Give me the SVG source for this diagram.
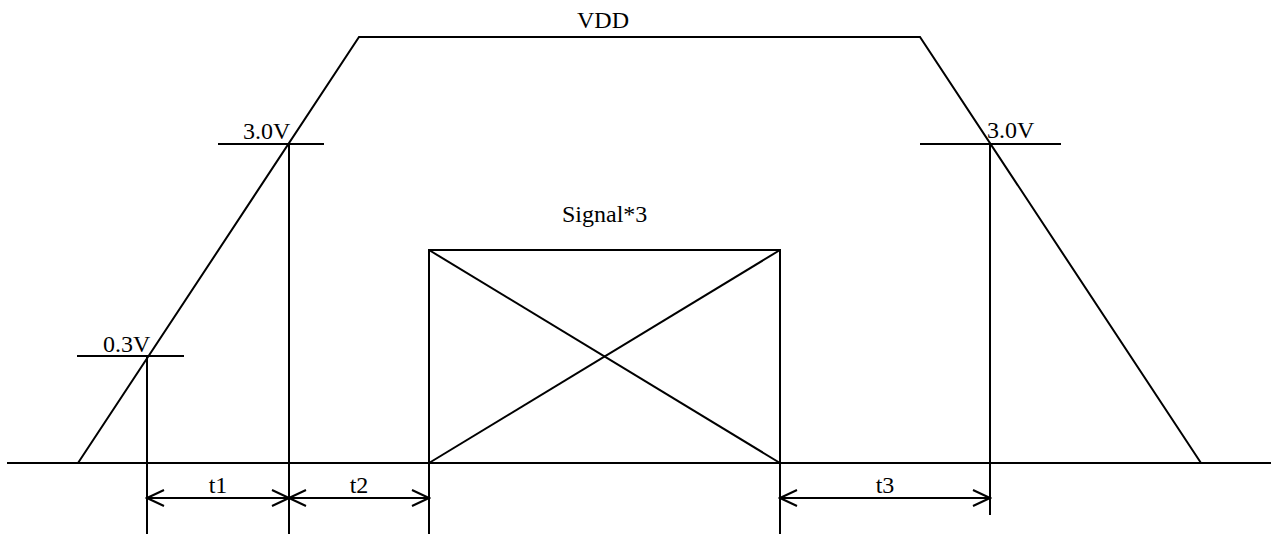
<svg xmlns="http://www.w3.org/2000/svg" width="1271" height="534" viewBox="0 0 1271 534">
<style>
.ln{stroke:#000;stroke-width:2;fill:none;stroke-linecap:butt;stroke-linejoin:miter}
.dim{stroke:#000;stroke-width:2;fill:none;marker-start:url(#ah);marker-end:url(#ah)}
.tx{font-family:"Liberation Serif","Times New Roman",serif;font-size:24px;fill:#000}
</style>
<defs>
<marker id="ah" markerUnits="userSpaceOnUse" viewBox="-19 -10 21 20" refX="0" refY="0" markerWidth="21" markerHeight="20" orient="auto-start-reverse">
<path d="M-17,-8 L0,0 L-17,8" fill="none" stroke="#000" stroke-width="2"/>
</marker>
</defs>
<rect width="1271" height="534" fill="#fff"/>
<g id="baseline">
<line class="ln" x1="7" y1="463" x2="1271" y2="463"/>
</g>
<g id="vdd-curve">
<polyline class="ln" points="78,463 359,37 920,37 1201,463"/>
<text class="tx" x="577" y="28">VDD</text>
</g>
<g id="level-03v">
<line class="ln" x1="77" y1="356" x2="184" y2="356"/>
<line class="ln" x1="147" y1="356" x2="147" y2="534"/>
<text class="tx" x="103" y="352">0.3V</text>
</g>
<g id="level-30v-left">
<line class="ln" x1="218" y1="144" x2="324" y2="144"/>
<line class="ln" x1="289" y1="144" x2="289" y2="534"/>
<text class="tx" x="243" y="139">3.0V</text>
</g>
<g id="level-30v-right">
<line class="ln" x1="920" y1="144" x2="1061" y2="144"/>
<line class="ln" x1="990" y1="144" x2="990" y2="515"/>
<text class="tx" x="987" y="138">3.0V</text>
</g>
<g id="signal">
<rect class="ln" x="429" y="250" width="351" height="213"/>
<line class="ln" x1="429" y1="250" x2="780" y2="463"/>
<line class="ln" x1="780" y1="250" x2="429" y2="463"/>
<line class="ln" x1="429" y1="463" x2="429" y2="534"/>
<line class="ln" x1="780" y1="463" x2="780" y2="534"/>
<text class="tx" x="562" y="222">Signal*3</text>
</g>
<g id="connectors">
<line class="dim" x1="147" y1="498" x2="289" y2="498"/>
<line class="dim" x1="289" y1="498" x2="429" y2="498"/>
<line class="dim" x1="780" y1="498" x2="990" y2="498"/>
</g>
<g id="dim-labels">
<text class="tx" x="218" y="493" text-anchor="middle">t1</text>
<text class="tx" x="359" y="493" text-anchor="middle">t2</text>
<text class="tx" x="885" y="493" text-anchor="middle">t3</text>
</g>
</svg>
